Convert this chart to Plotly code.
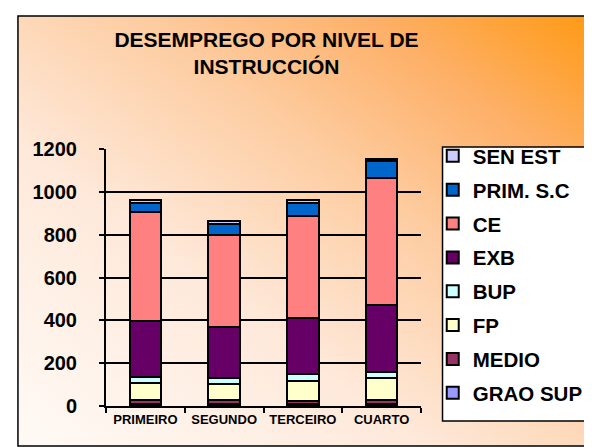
import base64
import plotly.graph_objects as go

# quarters and unemployment by level of education
quarters = ['PRIMEIRO', 'SEGUNDO', 'TERCEIRO', 'CUARTO']
levels = ['GRAO SUP', 'MEDIO', 'FP', 'BUP', 'EXB', 'CE', 'PRIM. S.C', 'SEN EST']

grao_sup = [8, 8, 10, 10]
medio = [18, 18, 15, 16]
fp = [82, 75, 94, 103]
bup = [27, 31, 31, 31]
exb = [261, 236, 261, 313]
ce = [512, 431, 474, 593]
prim_sc = [42, 51, 65, 78]
sen_est = [12, 14, 11, 9]

series = [grao_sup, medio, fp, bup, exb, ce, prim_sc, sen_est]
colors = ['#9999FF', '#993366', '#FFFFCC', '#CCFFFF', '#660066',
          '#FF8080', '#0066CC', '#CCCCFF']

FONT = 'Arial, Liberation Sans, sans-serif'

# diagonal gradient used as the chart background
svg = """<svg xmlns='http://www.w3.org/2000/svg' width='100' height='100' preserveAspectRatio='none'>
<defs><linearGradient id='g' x1='0' y1='1' x2='1' y2='0'>
<stop offset='0' stop-color='#FFFAF6'/>
<stop offset='0.35' stop-color='#FEE9DA'/>
<stop offset='0.6' stop-color='#FDCDA2'/>
<stop offset='0.8' stop-color='#FDB068'/>
<stop offset='1' stop-color='#FF9912'/>
</linearGradient></defs>
<rect width='100' height='100' fill='url(#g)'/></svg>"""
bg_src = 'data:image/svg+xml;base64,' + base64.b64encode(svg.encode()).decode()

fig = go.Figure()
for i, (name, vals, col) in enumerate(zip(levels, series, colors)):
    fig.add_trace(go.Bar(
        x=quarters, y=vals, name=name, legendgroup=name,
        legendrank=100 - i,
        marker=dict(color=col, line=dict(color='black', width=2)),
    ))

# plot area in pixels: x 98..420, y 141..398
L, R, T, B = 98, 420, 141, 398
W, H = 592, 447
px = lambda v: (v - L) / (R - L)
py = lambda v: (B - v) / (B - T)

fig.update_layout(
    width=W, height=H,
    margin=dict(l=L, r=W - R, t=T, b=H - B),
    barmode='stack', bargap=0.6,
    paper_bgcolor='white', plot_bgcolor='rgba(0,0,0,0)',
    font=dict(family=FONT, color='black'),
    title=dict(text='<b>DESEMPREGO POR NIVEL DE<br>INSTRUCCIÓN</b>',
               x=258.5 / W, xanchor='center', y=1 - 39 / H, yanchor='middle',
               font=dict(size=21, family=FONT)),
    legend=dict(x=px(432), y=py(128), xanchor='left', yanchor='top',
                traceorder='grouped', tracegroupgap=4.2,
                bgcolor='rgba(0,0,0,0)', borderwidth=0,
                font=dict(size=20.5, family=FONT, weight='bold'),
                itemwidth=30, maxheight=400),
    images=[dict(source=bg_src, xref='paper', yref='paper',
                 x=px(8), y=py(8), sizex=px(600) - px(8), sizey=py(8) - py(438),
                 sizing='stretch', layer='below')],
    shapes=[
        dict(type='rect', xref='paper', yref='paper',
             x0=px(8), x1=px(600), y0=py(438), y1=py(8),
             line=dict(color='black', width=1.5)),
        # legend box
        dict(type='rect', xref='paper', yref='paper',
             x0=px(442), x1=px(589), y0=py(413), y1=py(139),
             fillcolor='white', line=dict(color='black', width=1.5),
             layer='above'),
    ],
)

fig.update_xaxes(showline=True, linecolor='black', linewidth=2,
                 ticks='outside', tickson='boundaries', ticklen=5,
                 tickcolor='black', tickwidth=2,
                 tickfont=dict(size=13, family=FONT, weight='bold'))
fig.update_yaxes(range=[0, 1200], dtick=200, showline=True, linecolor='black',
                 linewidth=2, showgrid=True, gridcolor='black', gridwidth=1.5,
                 ticks='outside', ticklen=5, tickcolor='black', tickwidth=2,
                 ticklabelstandoff=18,
                 tickfont=dict(size=20, family=FONT, weight='bold'),
                 zeroline=False)

fig.write_html('out.html')
